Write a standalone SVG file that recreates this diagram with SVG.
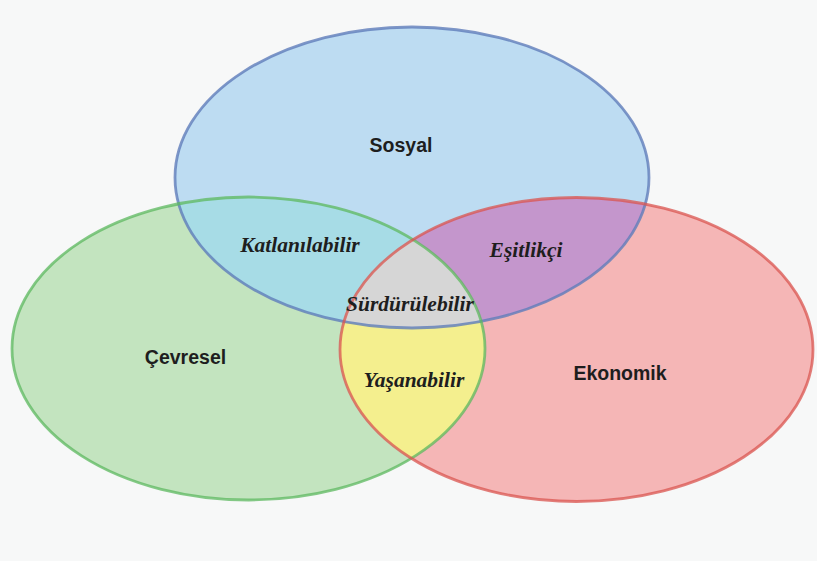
<svg xmlns="http://www.w3.org/2000/svg" width="817" height="561" viewBox="0 0 817 561">
<style>
.main{font-family:"Liberation Sans","DejaVu Sans",sans-serif;font-weight:bold;font-size:19.5px;fill:#1e1e1e;text-anchor:middle}
.sub{font-family:"Liberation Serif","DejaVu Serif",serif;font-weight:bold;font-style:italic;font-size:21.5px;fill:#1e1e1e;text-anchor:middle}
.edge{fill:none;stroke-width:2.8}
</style>
<defs>
<clipPath id="cB"><ellipse cx="412" cy="177.5" rx="237" ry="150.5"/></clipPath>
<clipPath id="cG"><ellipse cx="248.5" cy="348.5" rx="236.5" ry="151.5"/></clipPath>
<clipPath id="cR"><ellipse cx="576.5" cy="349.5" rx="236.5" ry="152"/></clipPath>
</defs>
<rect width="817" height="561" fill="#f7f8f8"/>
<g id="sosyal">
<ellipse cx="412" cy="177.5" rx="237" ry="150.5" fill="#bddcf2"/>
</g>
<g id="cevresel">
<ellipse cx="248.5" cy="348.5" rx="236.5" ry="151.5" fill="#c3e4bf"/>
</g>
<g id="ekonomik">
<ellipse cx="576.5" cy="349.5" rx="236.5" ry="152" fill="#f5b6b6"/>
</g>
<g id="katlanilabilir">
<g clip-path="url(#cB)"><ellipse cx="248.5" cy="348.5" rx="236.5" ry="151.5" fill="#a7dce6"/></g>
</g>
<g id="esitlikci">
<g clip-path="url(#cB)"><ellipse cx="576.5" cy="349.5" rx="236.5" ry="152" fill="#c496cc"/></g>
</g>
<g id="yasanabilir">
<g clip-path="url(#cG)"><ellipse cx="576.5" cy="349.5" rx="236.5" ry="152" fill="#f4ef8e"/></g>
</g>
<g id="surdurulebilir">
<g clip-path="url(#cB)"><g clip-path="url(#cG)"><ellipse cx="576.5" cy="349.5" rx="236.5" ry="152" fill="#d6d6d6"/></g></g>
</g>
<g id="outlines">
<ellipse class="edge" cx="412" cy="177.5" rx="237" ry="150.5" stroke="#5f7dba" stroke-opacity="0.8"/>
<ellipse class="edge" cx="248.5" cy="348.5" rx="236.5" ry="151.5" stroke="#5cb85f" stroke-opacity="0.75"/>
<ellipse class="edge" cx="576.5" cy="349.5" rx="236.5" ry="152" stroke="#d9544f" stroke-opacity="0.75"/>
</g>
<g id="labels">
<text class="main" x="401" y="152">Sosyal</text>
<text class="main" x="185.5" y="364">Çevresel</text>
<text class="main" x="620" y="380">Ekonomik</text>
<text class="sub" x="300" y="252">Katlanılabilir</text>
<text class="sub" x="526" y="257">Eşitlikçi</text>
<text class="sub" x="410" y="311">Sürdürülebilir</text>
<text class="sub" x="414" y="387">Yaşanabilir</text>
</g>
</svg>
